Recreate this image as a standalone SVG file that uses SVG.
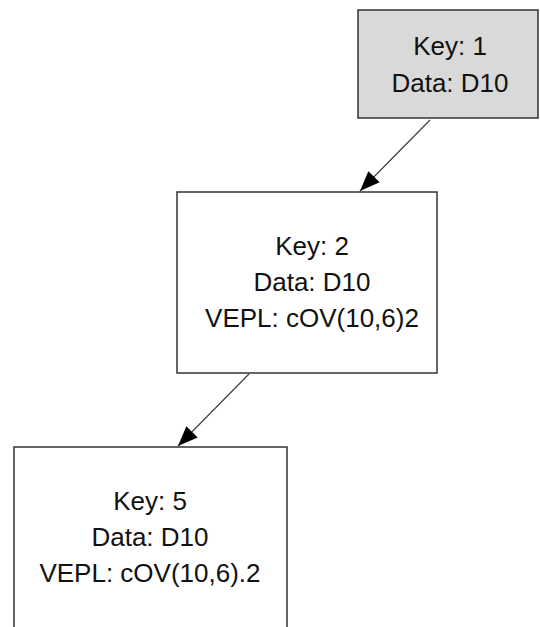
<svg xmlns="http://www.w3.org/2000/svg" width="540" height="627" viewBox="0 0 540 627">
<style>
.box{fill:#ffffff;stroke:#333333;stroke-width:1.5}
.root{fill:#d9d9d9}
.lbl{font-family:"Liberation Sans",Arial,sans-serif;font-size:26px;fill:#111111;text-anchor:middle}
.edge{stroke:#404040;stroke-width:1.2;fill:none}
</style>
<defs>
<marker id="arr" markerUnits="userSpaceOnUse" markerWidth="22" markerHeight="16" refX="20" refY="8" orient="auto">
<path d="M0,0 L20,8 L0,16 Z" fill="#000000"/>
</marker>
</defs>
<rect width="540" height="627" fill="#ffffff"/>
<g id="connectors">
<line class="edge" x1="430" y1="120" x2="360" y2="191" marker-end="url(#arr)"/>
<line class="edge" x1="249" y1="374" x2="178" y2="446" marker-end="url(#arr)"/>
</g>
<g id="node1">
<rect class="box root" x="358" y="10" width="180" height="108"/>
<text class="lbl" x="450" y="55">Key: 1</text>
<text class="lbl" x="450" y="92">Data: D10</text>
</g>
<g id="node2">
<rect class="box" x="177" y="192" width="260" height="181"/>
<text class="lbl" x="312" y="255">Key: 2</text>
<text class="lbl" x="312" y="291">Data: D10</text>
<text class="lbl" x="312" y="327">VEPL: cOV(10,6)2</text>
</g>
<g id="node3">
<rect class="box" x="14" y="447" width="273" height="181"/>
<text class="lbl" x="150" y="510">Key: 5</text>
<text class="lbl" x="150" y="546">Data: D10</text>
<text class="lbl" x="150" y="582">VEPL: cOV(10,6).2</text>
</g>
</svg>
